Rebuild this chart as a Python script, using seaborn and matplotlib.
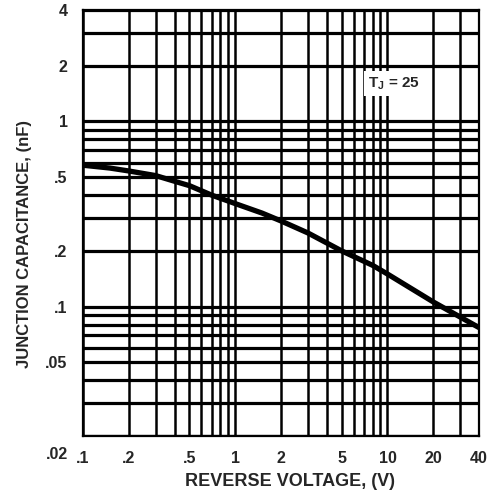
import matplotlib
matplotlib.use('Agg')
import matplotlib.pyplot as plt
import matplotlib.transforms as mtransforms
import seaborn as sns
import pandas as pd

# Junction capacitance vs reverse voltage
voltage = [0.1, 0.15, 0.2, 0.3, 0.4, 0.5, 0.7, 1, 1.5, 2, 3, 5, 8, 10, 20, 40]
capacitance = [0.58, 0.56, 0.54, 0.51, 0.475, 0.45, 0.40, 0.36, 0.32, 0.29, 0.25, 0.20, 0.167, 0.15, 0.106, 0.077]

x_major = [0.1, 0.2, 0.5, 1, 2, 5, 10, 20, 40]
x_major_labels = [".1", ".2", ".5", "1", "2", "5", "10", "20", "40"]
x_minor = [0.3, 0.4, 0.6, 0.7, 0.8, 0.9, 3, 4, 6, 7, 8, 9, 30]

y_major = [0.02, 0.05, 0.1, 0.2, 0.5, 1, 2, 4]
y_major_labels = [".02", ".05", ".1", ".2", ".5", "1", "2", "4"]
y_minor = [0.03, 0.04, 0.06, 0.07, 0.08, 0.09, 0.3, 0.4, 0.6, 0.7, 0.8, 0.9, 3]

df = pd.DataFrame({"V": voltage, "C": capacitance})

sns.set_style("white")
plt.rcParams['font.family'] = ['Liberation Sans', 'DejaVu Sans']
plt.rcParams['font.weight'] = 'bold'
plt.rcParams['mathtext.fontset'] = 'custom'
plt.rcParams['mathtext.bf'] = 'Liberation Sans:bold'
plt.rcParams['mathtext.rm'] = 'Liberation Sans:bold'
plt.rcParams['mathtext.it'] = 'Liberation Sans:bold'

fig = plt.figure(figsize=(4.97, 4.95), dpi=100)
ax = fig.add_axes([0.167, 0.119, 0.797, 0.861])

ax.set_xscale("log")
ax.set_yscale("log")
ax.set_xlim(0.1, 40)
ax.set_ylim(0.02, 4)

ax.set_xticks(x_major)
ax.set_xticklabels(x_major_labels)
ax.set_xticks(x_minor, minor=True)
ax.set_yticks(y_major)
ax.set_yticklabels(y_major_labels)
ax.set_yticks(y_minor, minor=True)
ax.xaxis.set_minor_formatter(matplotlib.ticker.NullFormatter())
ax.yaxis.set_minor_formatter(matplotlib.ticker.NullFormatter())

ax.tick_params(which="both", length=0, labelsize=11.5, pad=11)
ax.xaxis.grid(True, which="both", color="black", linewidth=1.8)
ax.yaxis.grid(True, which="both", color="black", linewidth=2.3)
ax.set_axisbelow(True)
for s in ax.spines.values():
    s.set_color("black")
    s.set_linewidth(1.6)

sns.lineplot(data=df, x="V", y="C", color="black", linewidth=3.8, ax=ax,
             solid_capstyle="butt", zorder=3)

# ".02" label sits lower in the corner
for lab in ax.get_yticklabels():
    if lab.get_text() == ".02":
        lab.set_transform(lab.get_transform() +
                          mtransforms.ScaledTranslation(0, -17 / 100, fig.dpi_scale_trans))

ax.text(7.5, 1.6, r"$\mathbf{T_J}$ = 25", fontsize=11, fontweight="bold",
        va="center", ha="left", zorder=4,
        bbox=dict(facecolor="white", edgecolor="none", pad=3))

ax.set_xlabel("REVERSE VOLTAGE, (V)", fontsize=13, fontweight="bold")
ax.set_ylabel("JUNCTION CAPACITANCE, (nF)", fontsize=12, fontweight="bold")
ax.xaxis.set_label_coords(0.523, -0.086)
ax.yaxis.set_label_coords(-0.13, 0.45)

plt.savefig("out.png", dpi=100)
